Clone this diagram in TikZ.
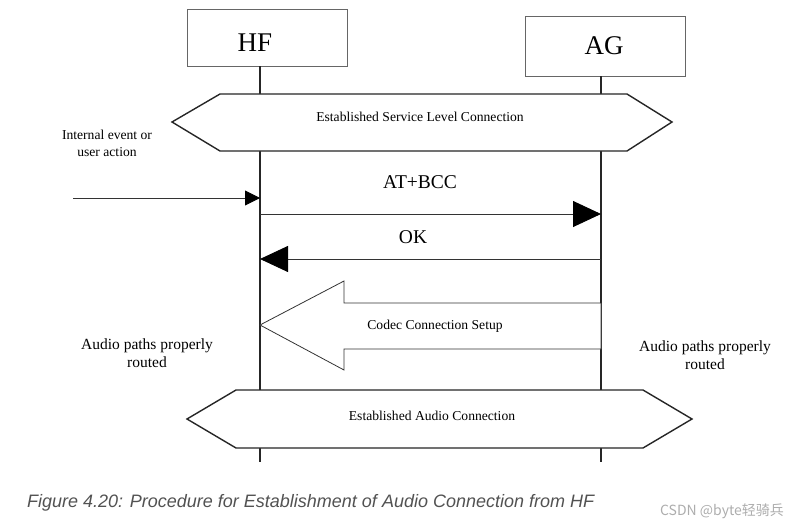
\documentclass[tikz,border=0pt]{standalone}
\usepackage{fontspec}
\setmainfont{Liberation Serif}
\setsansfont{Liberation Sans}
\newfontfamily\cjkfont{Noto Sans CJK SC}
\usetikzlibrary{arrows.meta,calc}

\begin{document}
\begin{tikzpicture}[x=1pt,y=-1pt,
  entity/.style={draw=black!60, line width=0.8pt, inner sep=0pt},
  entitytext/.style={font=\fontsize{27}{27}\selectfont},
  lifeline/.style={line width=1.8pt, black!85},
  band/.style={draw=black!85, line width=1.4pt, fill=white, line join=miter},
  msg/.style={line width=0.9pt, black!80, -{Triangle[length=28pt,width=26pt,color=black]}},
  trigger/.style={line width=0.9pt, black!80, -{Triangle[length=15pt,width=15pt,color=black]}},
  bigarrow/.style={draw=black!80, line width=0.8pt, fill=white, line join=miter},
  bandtext/.style={font=\fontsize{13.6}{14}\selectfont},
  msgtext/.style={font=\fontsize{19.5}{20}\selectfont},
  note/.style={font=\fontsize{13.6}{17}\selectfont, align=center},
  sidenote/.style={font=\fontsize{15.5}{18.5}\selectfont, align=center},
]
\useasboundingbox (0,0) rectangle (789,524);

% entities
\node[entity, minimum width=160pt, minimum height=57pt] (hf) at (267,37.5) {};
\node[entitytext] (hfLabel) at (255,43) {HF};
\node[entity, minimum width=160pt, minimum height=60pt] (ag) at (605,46) {};
\node[entitytext] (agLabel) at (604,46) {AG};

% lifeline ends
\coordinate (hfEnd) at (260,462);
\coordinate (agEnd) at (601,462);
\draw[lifeline] (hfEnd |- hf.south) -- (hfEnd);
\draw[lifeline] (agEnd |- ag.south) -- (agEnd);

% established service level connection
\draw[band] (172,122) -- (220,94) -- (627,94) -- (672,122) -- (627,151) -- (220,151) -- cycle;
\node[bandtext] (slc) at (420,117) {Established Service Level Connection};

% trigger
\node[note] (trig) at (107,143) {Internal event or\\user action};
\coordinate (ext) at (73,198);
\coordinate (hfIn) at (260,198);
\draw[trigger] (ext) -- (hfIn);

% AT+BCC
\coordinate (bccFrom) at (260,214);
\coordinate (bccTo) at (601,214);
\draw[msg] (bccFrom) -- (bccTo);
\node[msgtext] (bcc) at (420,182) {AT+BCC};

% OK
\coordinate (okFrom) at (601,259);
\coordinate (okTo) at (260,259);
\draw[msg] (okFrom) -- (okTo);
\node[msgtext] (ok) at (413,237) {OK};

% codec connection setup
\draw[bigarrow] (260,325) -- (344,281) -- (344,303) -- (601,303) -- (601,349)
  -- (344,349) -- (344,370) -- cycle;
\node[bandtext] (codec) at (435,326) {Codec Connection Setup};

% side notes
\node[sidenote] (hfRouted) at (147,353) {Audio paths properly\\routed};
\node[sidenote] (agRouted) at (705,355) {Audio paths properly\\routed};

% established audio connection
\draw[band] (187,419) -- (236,390) -- (643,390) -- (692,419) -- (643,448) -- (236,448) -- cycle;
\node[bandtext] (eac) at (432,416) {Established Audio Connection};

% caption
\node[anchor=west, inner sep=0pt, font=\sffamily\itshape\fontsize{18}{20}\selectfont, text=black!68]
  (caption) at (27,503) {Figure 4.20: Procedure for Establishment of Audio Connection from HF};
\node[font=\cjkfont\fontsize{14}{14}\selectfont, text=black!32] (mark) at (722,511) {CSDN @byte轻骑兵};
\end{tikzpicture}
\end{document}
